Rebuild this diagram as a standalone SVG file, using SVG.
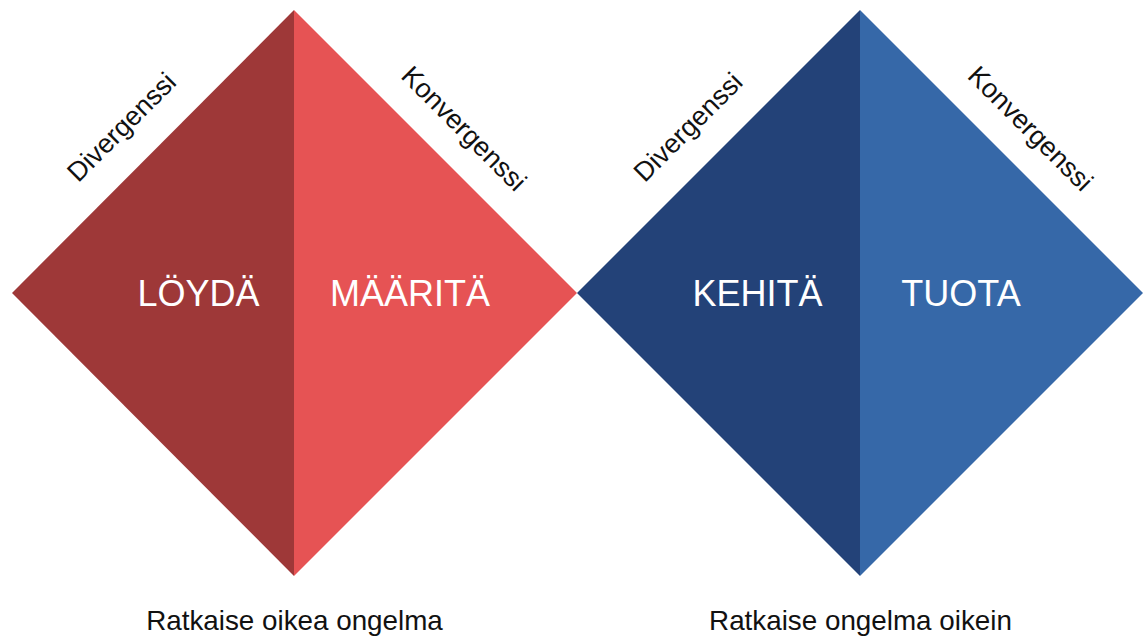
<svg xmlns="http://www.w3.org/2000/svg" width="1144" height="639" viewBox="0 0 1144 639">
<style>
.dr{fill:#9E3838}.lr{fill:#E65354}.db{fill:#234278}.lb{fill:#3668A8}
.big{font-family:"Liberation Sans",Arial,sans-serif;font-size:36px;fill:#fff;text-anchor:middle}
.sm{font-family:"Liberation Sans",Arial,sans-serif;font-size:27px;fill:#111;text-anchor:middle}
.cap{font-family:"Liberation Sans",Arial,sans-serif;font-size:27.8px;fill:#111;text-anchor:middle}
</style>
<rect width="1144" height="639" fill="#fff"/>
<g id="diamond-left">
<polygon class="dr" points="12,293 294,10 294,576"/>
<polygon class="lr" points="294,10 577,293 294,576"/>
<text class="big" x="198.5" y="306">LÖYDÄ</text>
<text class="big" x="410" y="306">MÄÄRITÄ</text>
<text class="sm" transform="translate(128,133.5) rotate(-45)">Divergenssi</text>
<text class="sm" transform="translate(457.5,135) rotate(45)">Konvergenssi</text>
<text class="cap" x="294.5" y="630">Ratkaise oikea ongelma</text>
</g>
<g id="diamond-right">
<polygon class="db" points="577,293 860,10 860,576"/>
<polygon class="lb" points="860,10 1143,293 860,576"/>
<text class="big" x="757.5" y="306">KEHITÄ</text>
<text class="big" x="961" y="306">TUOTA</text>
<text class="sm" transform="translate(694.5,133.5) rotate(-45)">Divergenssi</text>
<text class="sm" transform="translate(1024,135) rotate(45)">Konvergenssi</text>
<text class="cap" x="860.5" y="630">Ratkaise ongelma oikein</text>
</g>
<g id="connectors"/>
</svg>
